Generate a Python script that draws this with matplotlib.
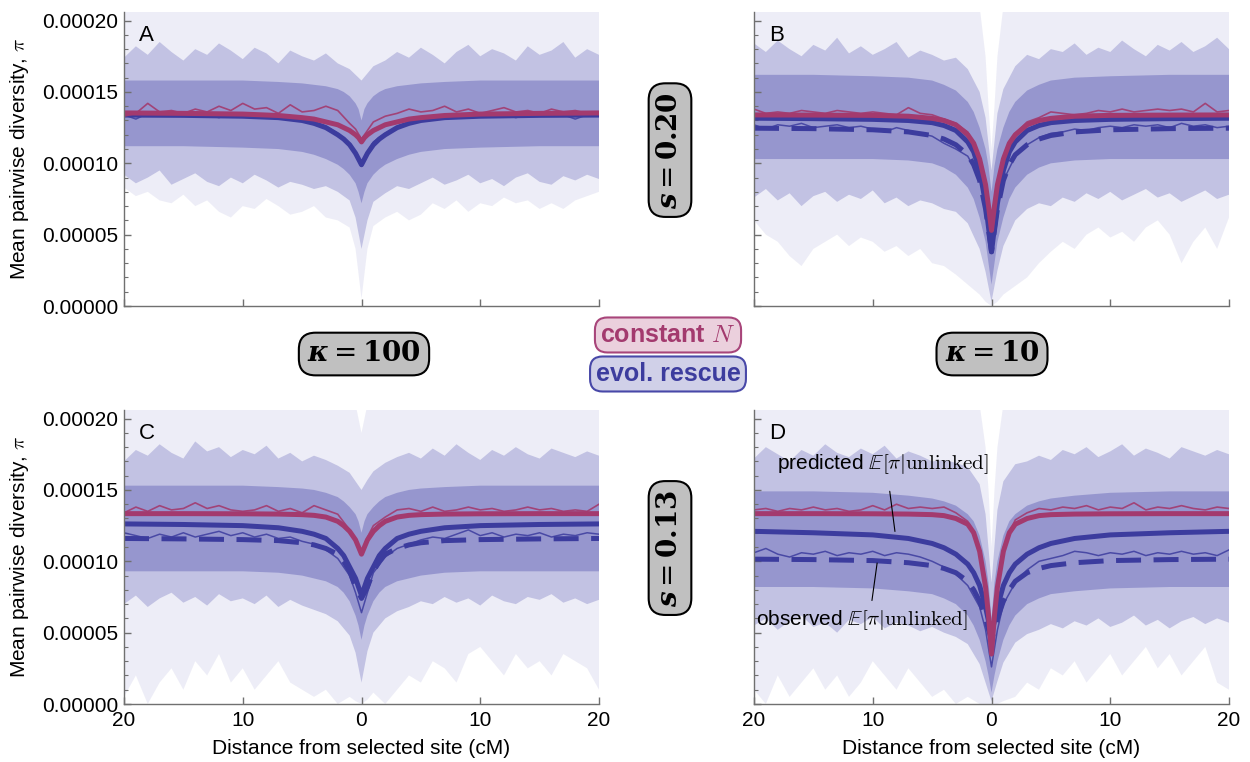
import numpy as np
import matplotlib.pyplot as plt
from matplotlib.ticker import MultipleLocator, FixedLocator, FuncFormatter

plt.rcParams['font.family'] = ['Liberation Sans', 'DejaVu Sans']
plt.rcParams['mathtext.fontset'] = 'cm'

SCALE = 1e-4  # every value below is in units of 1e-4

# distances (cM) for the jagged simulation curves
x_grid = [-20, -19, -18, -17, -16, -15, -14, -13, -12, -11, -10, -9, -8, -7, -6, -5, -4, -3, -2, -1,
          -0.5, 0, 0.5,
          1, 2, 3, 4, 5, 6, 7, 8, 9, 10, 11, 12, 13, 14, 15, 16, 17, 18, 19, 20]
# distances for the symmetric predictions / dense core of replicates
half_d = [0, 0.25, 0.5, 1, 1.5, 2, 3, 4, 5, 7, 10, 15, 20]

# ---- panel A (s=0.20, kappa=100)
red_pred_A = [1.15, 1.18, 1.20, 1.23, 1.25, 1.27, 1.29, 1.31, 1.32, 1.335, 1.345, 1.35, 1.353]
blue_pred_A = [0.99, 1.03, 1.07, 1.13, 1.17, 1.20, 1.25, 1.28, 1.30, 1.32, 1.33, 1.336, 1.338]
blue_obs_A = None
red_mean_A = [1.33, 1.35, 1.42, 1.36, 1.37, 1.35, 1.38, 1.36, 1.40, 1.37, 1.42, 1.38, 1.39, 1.35, 1.41, 1.36, 1.37, 1.40, 1.37, 1.28,
              1.24, 1.17, 1.23,
              1.29, 1.33, 1.35, 1.38, 1.36, 1.37, 1.40, 1.36, 1.38, 1.35, 1.37, 1.39, 1.36, 1.37, 1.35, 1.38, 1.36, 1.37, 1.35, 1.36]
blue_mean_A = [1.34, 1.31, 1.35, 1.33, 1.34, 1.36, 1.33, 1.34, 1.32, 1.35, 1.33, 1.34, 1.32, 1.33, 1.31, 1.30, 1.29, 1.26, 1.21, 1.14,
               1.07, 0.98, 1.08,
               1.15, 1.21, 1.25, 1.28, 1.31, 1.32, 1.33, 1.34, 1.33, 1.35, 1.33, 1.34, 1.32, 1.34, 1.35, 1.33, 1.34, 1.31, 1.34, 1.33]
core_hi_A = [1.30, 1.38, 1.42, 1.47, 1.50, 1.52, 1.54, 1.55, 1.56, 1.57, 1.58, 1.58, 1.58]
core_lo_A = [0.72, 0.80, 0.86, 0.92, 0.96, 0.99, 1.03, 1.06, 1.08, 1.10, 1.11, 1.12, 1.12]
mid_hi_A = [1.74, 1.82, 1.76, 1.85, 1.78, 1.72, 1.80, 1.76, 1.84, 1.79, 1.73, 1.81, 1.77, 1.70, 1.79, 1.75, 1.72, 1.77, 1.70, 1.66,
            1.62, 1.58, 1.63,
            1.68, 1.72, 1.78, 1.74, 1.81, 1.76, 1.70, 1.78, 1.83, 1.75, 1.80, 1.77, 1.72, 1.82, 1.76, 1.79, 1.85, 1.74, 1.80, 1.76]
mid_lo_A = [0.92, 0.86, 0.90, 0.95, 0.85, 0.89, 0.93, 0.87, 0.84, 0.90, 0.86, 0.92, 0.88, 0.83, 0.87, 0.85, 0.82, 0.84, 0.80, 0.74,
            0.62, 0.40, 0.60,
            0.73, 0.79, 0.84, 0.82, 0.86, 0.90, 0.85, 0.88, 0.92, 0.86, 0.89, 0.84, 0.90, 0.93, 0.87, 0.85, 0.91, 0.88, 0.92, 0.89]
outer_hi_A = [2.10, 2.10, 2.10, 2.10, 2.10, 2.10, 2.10, 2.10, 2.10, 2.10, 2.10, 2.10, 2.10]
outer_lo_A = [0.83, 0.77, 0.80, 0.74, 0.72, 0.78, 0.70, 0.74, 0.66, 0.62, 0.70, 0.68, 0.75, 0.70, 0.64, 0.66, 0.70, 0.62, 0.60, 0.55,
              0.40, 0.05, 0.40,
              0.56, 0.62, 0.66, 0.60, 0.64, 0.72, 0.68, 0.74, 0.66, 0.72, 0.70, 0.76, 0.72, 0.74, 0.68, 0.72, 0.68, 0.74, 0.77, 0.80]

# ---- panel B (s=0.20, kappa=10)
red_pred_B = [0.53, 0.70, 0.85, 1.03, 1.14, 1.20, 1.27, 1.30, 1.315, 1.33, 1.336, 1.338, 1.339]
blue_pred_B = [0.38, 0.55, 0.72, 0.95, 1.08, 1.15, 1.23, 1.265, 1.285, 1.30, 1.308, 1.313, 1.316]
blue_obs_B = [0.38, 0.53, 0.68, 0.88, 0.99, 1.06, 1.13, 1.17, 1.195, 1.22, 1.235, 1.243, 1.246]
red_mean_B = [1.38, 1.35, 1.36, 1.35, 1.37, 1.36, 1.35, 1.37, 1.36, 1.35, 1.36, 1.35, 1.34, 1.39, 1.35, 1.34, 1.31, 1.28, 1.22, 1.04,
              0.86, 0.55, 0.87,
              1.05, 1.21, 1.29, 1.32, 1.36, 1.35, 1.34, 1.35, 1.37, 1.36, 1.38, 1.36, 1.37, 1.38, 1.37, 1.38, 1.36, 1.42, 1.36, 1.37]
blue_mean_B = [1.27, 1.24, 1.27, 1.26, 1.28, 1.25, 1.26, 1.27, 1.25, 1.26, 1.24, 1.22, 1.25, 1.23, 1.21, 1.19, 1.14, 1.10, 1.05, 0.90,
               0.70, 0.40, 0.70,
               0.88, 1.05, 1.13, 1.18, 1.21, 1.22, 1.24, 1.23, 1.25, 1.26, 1.25, 1.27, 1.26, 1.27, 1.25, 1.28, 1.26, 1.27, 1.25, 1.26]
core_hi_B = [0.80, 0.98, 1.10, 1.25, 1.36, 1.43, 1.51, 1.55, 1.58, 1.60, 1.61, 1.62, 1.62]
core_lo_B = [0.15, 0.30, 0.45, 0.62, 0.75, 0.83, 0.92, 0.97, 1.00, 1.02, 1.03, 1.03, 1.03]
mid_hi_B = [1.84, 1.78, 1.86, 1.80, 1.75, 1.83, 1.79, 1.88, 1.77, 1.82, 1.76, 1.80, 1.85, 1.74, 1.79, 1.76, 1.72, 1.74, 1.66, 1.50,
            1.32, 0.95, 1.35,
            1.52, 1.68, 1.76, 1.73, 1.80, 1.78, 1.84, 1.76, 1.81, 1.78, 1.86, 1.80, 1.75, 1.83, 1.79, 1.85, 1.78, 1.82, 1.88, 1.80]
mid_lo_B = [0.76, 0.82, 0.74, 0.79, 0.70, 0.77, 0.80, 0.73, 0.78, 0.75, 0.81, 0.72, 0.76, 0.70, 0.74, 0.72, 0.68, 0.66, 0.58, 0.40,
            0.24, 0.03, 0.25,
            0.42, 0.60, 0.68, 0.72, 0.70, 0.76, 0.73, 0.79, 0.75, 0.80, 0.74, 0.78, 0.82, 0.76, 0.79, 0.73, 0.77, 0.81, 0.75, 0.78]
outer_hi_B = [1.10, 1.40, 1.75, 2.10, 2.10, 2.10, 2.10, 2.10, 2.10, 2.10, 2.10, 2.10, 2.10]
outer_lo_B = [0.60, 0.50, 0.45, 0.35, 0.28, 0.40, 0.45, 0.50, 0.42, 0.48, 0.45, 0.38, 0.42, 0.35, 0.40, 0.30, 0.28, 0.22, 0.15, 0.08,
              0.03, 0.00, 0.03,
              0.08, 0.14, 0.20, 0.30, 0.38, 0.45, 0.40, 0.50, 0.55, 0.48, 0.52, 0.45, 0.55, 0.60, 0.50, 0.30, 0.45, 0.55, 0.40, 0.62]

# ---- panel C (s=0.13, kappa=100)
red_pred_C = [1.05, 1.10, 1.15, 1.21, 1.25, 1.28, 1.31, 1.322, 1.327, 1.331, 1.333, 1.334, 1.334]
blue_pred_C = [0.76, 0.82, 0.88, 0.96, 1.04, 1.09, 1.16, 1.19, 1.21, 1.235, 1.25, 1.258, 1.262]
blue_obs_C = [0.74, 0.78, 0.82, 0.93, 1.00, 1.05, 1.09, 1.115, 1.13, 1.145, 1.152, 1.157, 1.16]
red_mean_C = [1.34, 1.38, 1.35, 1.39, 1.36, 1.37, 1.41, 1.37, 1.39, 1.36, 1.35, 1.36, 1.39, 1.35, 1.37, 1.34, 1.39, 1.36, 1.33, 1.22,
              1.16, 1.06, 1.17,
              1.25, 1.31, 1.36, 1.37, 1.35, 1.38, 1.35, 1.36, 1.38, 1.36, 1.37, 1.35, 1.36, 1.38, 1.36, 1.37, 1.35, 1.36, 1.35, 1.40]
blue_mean_C = [1.20, 1.18, 1.16, 1.19, 1.17, 1.20, 1.17, 1.19, 1.21, 1.18, 1.20, 1.17, 1.19, 1.16, 1.17, 1.14, 1.12, 1.08, 1.02, 0.90,
               0.78, 0.64, 0.78,
               0.92, 1.03, 1.09, 1.12, 1.15, 1.17, 1.16, 1.19, 1.22, 1.18, 1.20, 1.17, 1.19, 1.18, 1.20, 1.17, 1.19, 1.18, 1.20, 1.19]
core_hi_C = [1.20, 1.28, 1.33, 1.38, 1.42, 1.45, 1.48, 1.50, 1.51, 1.52, 1.53, 1.53, 1.53]
core_lo_C = [0.45, 0.55, 0.62, 0.72, 0.78, 0.82, 0.86, 0.88, 0.90, 0.92, 0.93, 0.93, 0.93]
mid_hi_C = [1.70, 1.78, 1.74, 1.82, 1.76, 1.72, 1.84, 1.77, 1.80, 1.73, 1.78, 1.75, 1.81, 1.72, 1.76, 1.70, 1.74, 1.71, 1.67, 1.62,
            1.56, 1.50, 1.57,
            1.63, 1.69, 1.73, 1.76, 1.72, 1.79, 1.74, 1.82, 1.76, 1.71, 1.78, 1.74, 1.80, 1.75, 1.72, 1.79, 1.76, 1.73, 1.77, 1.74]
mid_lo_C = [0.70, 0.76, 0.68, 0.74, 0.78, 0.71, 0.75, 0.69, 0.77, 0.72, 0.74, 0.70, 0.76, 0.68, 0.73, 0.69, 0.66, 0.63, 0.58, 0.48,
            0.36, 0.15, 0.37,
            0.50, 0.60, 0.65, 0.68, 0.72, 0.70, 0.75, 0.71, 0.74, 0.69, 0.76, 0.72, 0.70, 0.75, 0.73, 0.77, 0.71, 0.74, 0.70, 0.73]
outer_hi_C = [1.90, 2.00, 2.10, 2.10, 2.10, 2.10, 2.10, 2.10, 2.10, 2.10, 2.10, 2.10, 2.10]
outer_lo_C = [0.05, 0.20, 0.00, 0.15, 0.25, 0.10, 0.30, 0.20, 0.35, 0.15, 0.25, 0.10, 0.20, 0.30, 0.15, 0.10, 0.05, 0.10, 0.00, 0.05,
              0.02, 0.00, 0.03,
              0.08, 0.00, 0.10, 0.20, 0.15, 0.30, 0.25, 0.15, 0.35, 0.40, 0.30, 0.20, 0.35, 0.25, 0.30, 0.20, 0.35, 0.30, 0.25, 0.10]

# ---- panel D (s=0.13, kappa=10)
red_pred_D = [0.35, 0.62, 0.82, 1.07, 1.20, 1.26, 1.30, 1.32, 1.327, 1.331, 1.333, 1.334, 1.334]
blue_pred_D = [0.50, 0.58, 0.68, 0.83, 0.92, 0.98, 1.05, 1.095, 1.125, 1.16, 1.185, 1.20, 1.21]
blue_obs_D = [0.45, 0.52, 0.60, 0.72, 0.80, 0.86, 0.92, 0.95, 0.97, 0.99, 1.005, 1.012, 1.015]
red_mean_D = [1.36, 1.37, 1.35, 1.37, 1.36, 1.38, 1.36, 1.37, 1.35, 1.36, 1.39, 1.36, 1.40, 1.37, 1.38, 1.37, 1.38, 1.34, 1.28, 1.08,
              0.82, 0.38, 0.84,
              1.10, 1.29, 1.34, 1.37, 1.36, 1.38, 1.37, 1.39, 1.36, 1.38, 1.37, 1.41, 1.36, 1.38, 1.37, 1.39, 1.37, 1.36, 1.38, 1.37]
blue_mean_D = [1.06, 1.09, 1.05, 1.03, 1.06, 1.05, 1.07, 1.04, 1.06, 1.05, 1.07, 1.04, 1.06, 1.05, 1.03, 1.00, 0.96, 0.91, 0.83, 0.68,
               0.52, 0.26, 0.52,
               0.70, 0.85, 0.94, 1.00, 1.02, 1.04, 1.07, 1.06, 1.04, 1.06, 1.05, 1.07, 1.04, 1.06, 1.05, 1.07, 1.05, 1.06, 1.04, 1.08]
core_hi_D = [0.60, 0.85, 1.00, 1.18, 1.28, 1.33, 1.39, 1.42, 1.44, 1.46, 1.48, 1.49, 1.49]
core_lo_D = [0.08, 0.20, 0.30, 0.45, 0.55, 0.62, 0.70, 0.74, 0.77, 0.79, 0.81, 0.82, 0.82]
mid_hi_D = [1.72, 1.80, 1.75, 1.70, 1.78, 1.74, 1.82, 1.76, 1.73, 1.79, 1.75, 1.81, 1.72, 1.77, 1.74, 1.70, 1.71, 1.69, 1.66, 1.54,
            1.33, 0.85, 1.36,
            1.56, 1.68, 1.70, 1.74, 1.71, 1.78, 1.75, 1.80, 1.73, 1.77, 1.82, 1.74, 1.79, 1.76, 1.72, 1.80, 1.77, 1.74, 1.78, 1.75]
mid_lo_D = [0.55, 0.60, 0.52, 0.58, 0.62, 0.54, 0.57, 0.50, 0.59, 0.56, 0.61, 0.53, 0.57, 0.55, 0.51, 0.54, 0.50, 0.47, 0.42, 0.28,
            0.15, 0.02, 0.16,
            0.29, 0.43, 0.49, 0.52, 0.56, 0.53, 0.58, 0.55, 0.60, 0.54, 0.57, 0.62, 0.55, 0.59, 0.53, 0.58, 0.61, 0.56, 0.60, 0.57]
outer_hi_D = [1.10, 1.50, 1.80, 2.10, 2.10, 2.10, 2.10, 2.10, 2.10, 2.10, 2.10, 2.10, 2.10]
outer_lo_D = [0.10, 0.00, 0.20, 0.05, 0.15, 0.25, 0.10, 0.20, 0.05, 0.15, 0.30, 0.20, 0.10, 0.25, 0.15, 0.05, 0.10, 0.00, 0.05, 0.00,
              0.00, 0.00, 0.00,
              0.02, 0.05, 0.15, 0.10, 0.25, 0.20, 0.30, 0.15, 0.25, 0.35, 0.20, 0.30, 0.40, 0.25, 0.35, 0.20, 0.30, 0.40, 0.15, 0.10]

x_ticks = [-20, -10, 0, 10, 20]

RED = '#a33a6e'
BLUE = '#3c3c9e'
CLOUD = '#4242a8'


def sym(vals):
    vals = list(vals)
    return np.array(vals[::-1] + vals[1:]) * SCALE


x_sym = np.array([-d for d in half_d[::-1]] + half_d[1:])
xg = np.array(x_grid)


def band(ax, x_hi, hi, x_lo, lo, alpha):
    xs = np.concatenate([x_hi, x_lo[::-1]])
    ys = np.concatenate([hi, lo[::-1]])
    ax.fill(xs, ys, color=CLOUD, alpha=alpha, lw=0)


def draw_panel(ax, letter, red_pred, blue_pred, blue_obs, red_mean, blue_mean,
               core_hi, core_lo, mid_hi, mid_lo, outer_hi, outer_lo, left, bottom):
    # replicate cloud
    band(ax, x_sym, sym(outer_hi), xg, np.array(outer_lo) * SCALE, 0.09)
    band(ax, xg, np.array(mid_hi) * SCALE, xg, np.array(mid_lo) * SCALE, 0.25)
    band(ax, x_sym, sym(core_hi), x_sym, sym(core_lo), 0.34)

    ax.plot(xg, np.array(blue_mean) * SCALE, color=BLUE, lw=1.1, alpha=0.85)
    if blue_obs is not None:
        ax.plot(x_sym, sym(blue_obs), color=BLUE, lw=3.6, dashes=(5, 2.5))
    ax.plot(x_sym, sym(blue_pred), color=BLUE, lw=3.6, solid_capstyle='butt')
    ax.plot(xg, np.array(red_mean) * SCALE, color=RED, lw=1.2, alpha=0.9)
    ax.plot(x_sym, sym(red_pred), color=RED, lw=3.6, solid_capstyle='butt')

    ax.set_xlim(-20, 20)
    ax.set_ylim(0, 0.000206)
    for side in ['top', 'right']:
        ax.spines[side].set_visible(False)
    for side in ['left', 'bottom']:
        ax.spines[side].set_color('#707070')
        ax.spines[side].set_linewidth(1.0)
    ax.xaxis.set_major_locator(FixedLocator(x_ticks))
    ax.yaxis.set_major_locator(MultipleLocator(0.00005))
    ax.yaxis.set_minor_locator(MultipleLocator(0.00001))
    ax.tick_params(which='both', direction='in', color='#707070', labelsize=15)
    ax.tick_params(which='major', length=5, width=1.0)
    ax.tick_params(which='minor', length=3, width=0.8)
    ax.tick_params(axis='x', pad=5)
    ax.tick_params(axis='y', pad=4)
    ax.xaxis.set_major_formatter(FuncFormatter(lambda v, p: '%d' % abs(v)))
    ax.yaxis.set_major_formatter(FuncFormatter(lambda v, p: '%.5f' % v))
    if not bottom:
        ax.tick_params(axis='x', labelbottom=False)
    else:
        ax.set_xlabel('Distance from selected site (cM)', fontsize=15)
        ax.xaxis.set_label_coords(0.5, -0.12)
    if not left:
        ax.tick_params(axis='y', labelleft=False)
    else:
        ax.set_ylabel(r'Mean pairwise diversity, $\pi$', fontsize=15)
        ax.yaxis.set_label_coords(-0.195, 0.5)
    ax.text(0.048, 0.92, letter, transform=ax.transAxes, fontsize=16,
            ha='center', va='center')


fig = plt.figure(figsize=(12.5, 7.62), dpi=100)
ax_A = fig.add_axes([0.0992, 0.5984, 0.38, 0.3858])
ax_B = fig.add_axes([0.6032, 0.5984, 0.38, 0.3858])
ax_C = fig.add_axes([0.0992, 0.0761, 0.38, 0.3858])
ax_D = fig.add_axes([0.6032, 0.0761, 0.38, 0.3858])

draw_panel(ax_A, 'A', red_pred_A, blue_pred_A, blue_obs_A, red_mean_A, blue_mean_A,
           core_hi_A, core_lo_A, mid_hi_A, mid_lo_A, outer_hi_A, outer_lo_A, True, False)
draw_panel(ax_B, 'B', red_pred_B, blue_pred_B, blue_obs_B, red_mean_B, blue_mean_B,
           core_hi_B, core_lo_B, mid_hi_B, mid_lo_B, outer_hi_B, outer_lo_B, False, False)
draw_panel(ax_C, 'C', red_pred_C, blue_pred_C, blue_obs_C, red_mean_C, blue_mean_C,
           core_hi_C, core_lo_C, mid_hi_C, mid_lo_C, outer_hi_C, outer_lo_C, True, True)
draw_panel(ax_D, 'D', red_pred_D, blue_pred_D, blue_obs_D, red_mean_D, blue_mean_D,
           core_hi_D, core_lo_D, mid_hi_D, mid_lo_D, outer_hi_D, outer_lo_D, False, True)

# annotations in D
ax_D.annotate('', xy=(-8.1, 1.19e-4), xytext=(-8.6, 1.51e-4),
              arrowprops=dict(arrowstyle='-', color='black', lw=0.8))
ax_D.annotate('', xy=(-10.1, 0.706e-4), xytext=(-9.6, 1.007e-4),
              arrowprops=dict(arrowstyle='-', color='black', lw=0.8))
ax_D.text(-18.1, 1.685e-4, r'predicted $\mathbb{E}[\pi|\mathrm{unlinked}]$', fontsize=15,
          ha='left', va='center')
ax_D.text(-19.8, 0.587e-4, r'observed $\mathbb{E}[\pi|\mathrm{unlinked}]$', fontsize=15,
          ha='left', va='center')

# facet labels
grey_box = dict(boxstyle='round,pad=0.3,rounding_size=0.6', fc='#c0c0c0', ec='black', lw=1.5)
facet_kw = dict(fontsize=20, ha='center', va='center', bbox=grey_box, math_fontfamily='dejavuserif')
fig.text(0.536, 0.803, r'$\boldsymbol{s} = \mathbf{0.20}$', rotation=90, **facet_kw)
fig.text(0.536, 0.2808, r'$\boldsymbol{s} = \mathbf{0.13}$', rotation=90, **facet_kw)
fig.text(0.2912, 0.5354, r'$\boldsymbol{\kappa} = \mathbf{100}$', **facet_kw)
fig.text(0.7936, 0.5354, r'$\boldsymbol{\kappa} = \mathbf{10}$', **facet_kw)

# legend
fig.text(0.5344, 0.5604, r'constant $N$', fontsize=18, fontweight='bold', color=RED,
         ha='center', va='center',
         bbox=dict(boxstyle='round,pad=0.22,rounding_size=0.5', fc='#ebd0dd', ec='#a8457a', lw=1.5))
fig.text(0.5344, 0.5092, 'evol. rescue', fontsize=18, fontweight='bold', color=BLUE,
         ha='center', va='center',
         bbox=dict(boxstyle='round,pad=0.22,rounding_size=0.5', fc='#d0d0e8', ec='#4848a8', lw=1.5))

fig.savefig('out.png', dpi=100)
